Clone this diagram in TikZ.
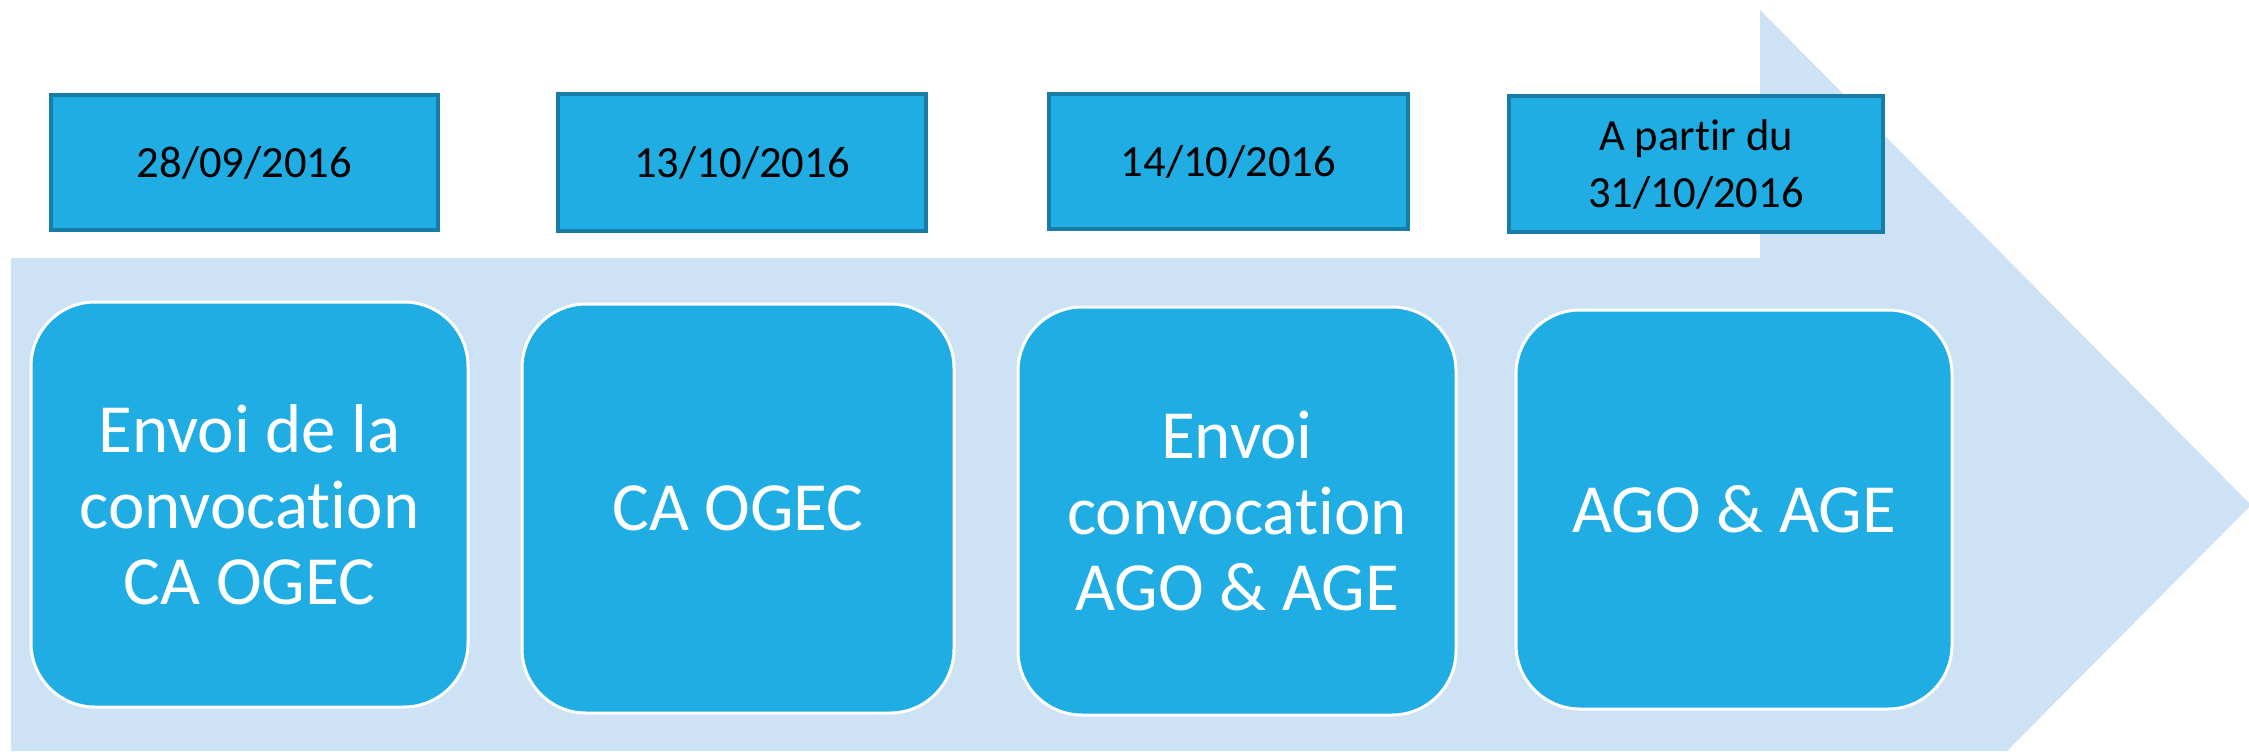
\documentclass[tikz,border=0pt]{standalone}
\usepackage{fontspec}
\setmainfont{Carlito}[Ligatures={NoCommon}]
\definecolor{arrowbg}{RGB}{205,226,244}
\definecolor{boxfill}{RGB}{31,173,227}
\definecolor{boxedge}{RGB}{24,124,166}
\tikzset{
  datebox/.style={rectangle, draw=boxedge, line width=1.6pt, fill=boxfill,
    text=black, align=center, inner sep=0pt,
    font=\fontsize{22.3}{28.5}\selectfont},
  stagebox/.style={rectangle, rounded corners=32pt, draw=white, line width=1.5pt,
    fill=boxfill, text=white, align=center, inner sep=0pt,
    font=\fontsize{34.5}{38}\selectfont}
}
\begin{document}
\begin{tikzpicture}[x=0.5pt,y=-0.5pt]
\useasboundingbox (0,0) rectangle (2249,751);
\fill[white] (0,0) rectangle (2249,751);
% big arrow
\fill[arrowbg] (11,258) -- (1760,258) -- (1760,10) -- (2251,505) -- (2007,751) -- (11,751) -- cycle;
% date boxes
\node[datebox, minimum width=193.5pt, minimum height=67.5pt] (d1) at (244.5,162.5) {28/09/2016};
\node[datebox, minimum width=184pt, minimum height=68.5pt] (d2) at (742,162.5) {13/10/2016};
\node[datebox, minimum width=179.5pt, minimum height=67.5pt] (d3) at (1228.5,161.5) {14/10/2016};
\node[datebox, minimum width=187pt, minimum height=68pt] (d4) at (1696,164) {A partir du\\31/10/2016};
% stage boxes
\node[stagebox, minimum width=218.5pt, minimum height=202.5pt] (b1) at (249.5,504.5) {Envoi de la\\convocation\\CA OGEC};
\node[stagebox, minimum width=216pt, minimum height=204.5pt] (b2) at (738,508.5) {CA OGEC};
\node[stagebox, minimum width=219pt, minimum height=204pt] (b3) at (1237,511) {Envoi\\convocation\\AGO \& AGE};
\node[stagebox, minimum width=218pt, minimum height=199.5pt] (b4) at (1734,509.5) {AGO \& AGE};
\end{tikzpicture}
\end{document}
